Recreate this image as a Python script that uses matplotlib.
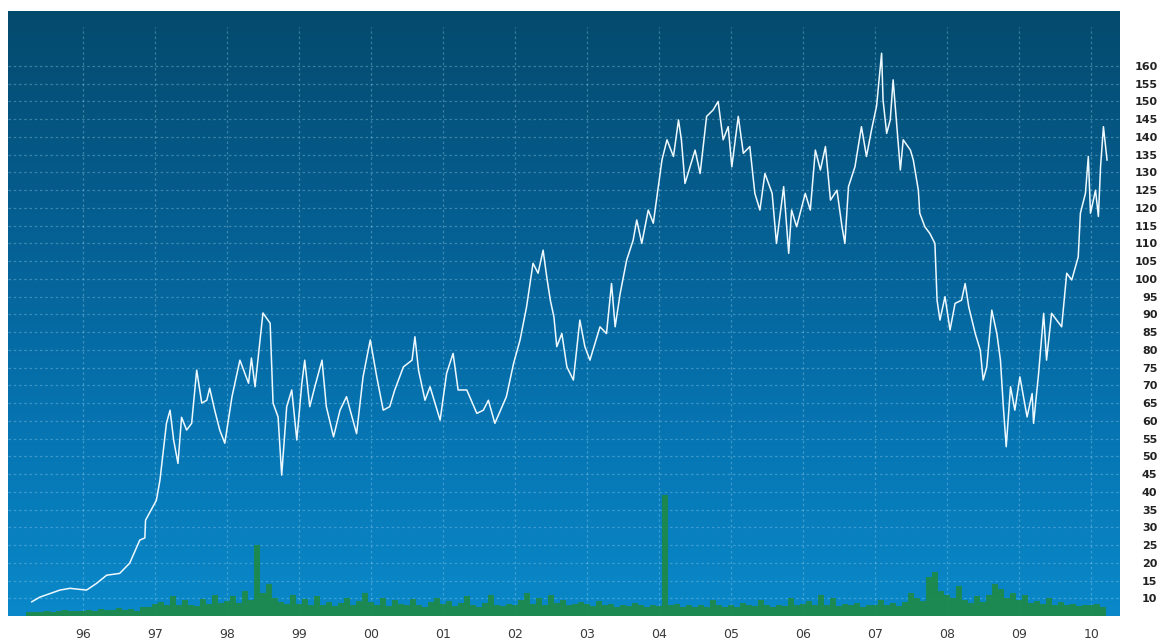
import numpy as np
import matplotlib
matplotlib.use("Agg")
import matplotlib.pyplot as plt
from matplotlib.colors import LinearSegmentedColormap

# ---------------------------------
# price series (decimal year, close)
# ---------------------------------
price_years = [
    1995.29, 1995.40, 1995.68, 1995.82, 1996.05, 1996.19, 1996.33, 1996.51,
    1996.65, 1996.79, 1996.86, 1996.87, 1996.97, 1997.02, 1997.07, 1997.16,
    1997.21, 1997.26, 1997.32, 1997.37, 1997.44, 1997.51, 1997.58, 1997.65,
    1997.72, 1997.76, 1997.83, 1997.90, 1997.97, 1998.07, 1998.18, 1998.30,
    1998.34, 1998.39, 1998.50, 1998.60, 1998.64, 1998.71, 1998.76, 1998.83,
    1998.90, 1998.97, 1999.04, 1999.08, 1999.15, 1999.22, 1999.32, 1999.38,
    1999.48, 1999.57, 1999.66, 1999.80, 1999.89, 1999.99, 2000.08, 2000.17,
    2000.26, 2000.33, 2000.45, 2000.57, 2000.61, 2000.66, 2000.75, 2000.82,
    2000.96, 2001.05, 2001.14, 2001.21, 2001.33, 2001.47, 2001.56, 2001.63,
    2001.72, 2001.88, 2001.98, 2002.07, 2002.16, 2002.25, 2002.32, 2002.39,
    2002.44, 2002.49, 2002.54, 2002.58, 2002.65, 2002.72, 2002.81, 2002.90,
    2002.97, 2003.04, 2003.18, 2003.27, 2003.34, 2003.39, 2003.46, 2003.55,
    2003.64, 2003.69, 2003.76, 2003.85, 2003.92, 2003.97, 2004.04, 2004.11,
    2004.20, 2004.27, 2004.31, 2004.36, 2004.43, 2004.50, 2004.57, 2004.66,
    2004.75, 2004.82, 2004.89, 2004.96, 2005.01, 2005.10, 2005.17, 2005.26,
    2005.33, 2005.40, 2005.47, 2005.57, 2005.63, 2005.73, 2005.80, 2005.84,
    2005.91, 2006.03, 2006.10, 2006.17, 2006.24, 2006.31, 2006.38, 2006.47,
    2006.54, 2006.58, 2006.63, 2006.72, 2006.81, 2006.88, 2006.95, 2007.02,
    2007.09, 2007.11, 2007.16, 2007.21, 2007.25, 2007.28, 2007.35, 2007.39,
    2007.49, 2007.53, 2007.60, 2007.62, 2007.69, 2007.76, 2007.83, 2007.86,
    2007.90, 2007.97, 2008.04, 2008.11, 2008.20, 2008.25, 2008.30, 2008.39,
    2008.46, 2008.50, 2008.55, 2008.62, 2008.69, 2008.74, 2008.78, 2008.82,
    2008.88, 2008.94, 2009.01, 2009.11, 2009.18, 2009.20, 2009.27, 2009.34,
    2009.38, 2009.45, 2009.59, 2009.66, 2009.73, 2009.82, 2009.85, 2009.92,
    2009.96, 2009.99, 2010.06, 2010.10, 2010.13, 2010.17, 2010.22,
]
price_values = [
    9.0, 10.3, 12.3, 12.8, 12.3, 14.2, 16.5, 17.0,
    19.9, 26.4, 27.0, 32.0, 35.7, 37.6, 43.3, 59.3,
    63.0, 54.6, 48.0, 61.0, 57.4, 59.3, 74.3, 65.0,
    65.8, 69.2, 63.0, 57.4, 53.7, 66.8, 77.1, 70.6,
    77.7, 69.6, 90.4, 87.5, 65.0, 61.1, 44.7, 64.0,
    68.7, 54.6, 70.6, 77.1, 64.0, 69.6, 77.1, 64.0,
    55.5, 63.0, 66.8, 56.4, 72.4, 82.8, 72.4, 63.0,
    64.0, 68.7, 75.2, 77.1, 83.7, 74.3, 65.8, 69.6,
    60.2, 73.4, 79.0, 68.7, 68.7, 62.1, 63.0, 65.8,
    59.3, 66.8, 76.2, 82.8, 92.1, 104.4, 101.6, 108.1,
    100.6, 94.0, 89.3, 80.9, 84.6, 75.2, 71.5, 88.4,
    80.9, 77.1, 86.5, 84.6, 98.7, 86.5, 95.9, 105.3,
    110.9, 116.6, 110.0, 119.4, 115.7, 123.2, 133.5, 139.2,
    134.5, 144.8, 139.2, 126.9, 131.6, 136.3, 129.7, 145.8,
    147.6, 150.0, 139.2, 142.9, 131.6, 145.8, 135.4, 137.3,
    124.1, 119.4, 129.7, 124.1, 110.0, 126.0, 107.2, 119.4,
    114.7, 124.1, 119.4, 136.3, 130.7, 137.3, 122.2, 125.0,
    114.7, 110.0, 126.0, 131.6, 142.9, 134.5, 142.0, 148.7,
    163.6, 150.4, 141.0, 144.8, 156.1, 148.5, 130.7, 139.2,
    136.3, 133.5, 125.0, 118.5, 114.7, 112.8, 110.0, 94.0,
    88.4, 95.0, 85.6, 93.1, 94.0, 98.7, 92.1, 84.6,
    79.9, 71.5, 75.2, 91.2, 84.6, 77.1, 64.0, 52.7,
    69.6, 63.0, 72.4, 61.1, 67.7, 59.3, 73.4, 90.3,
    77.1, 90.3, 86.5, 101.6, 99.7, 106.2, 118.5, 124.1,
    134.5, 118.5, 125.0, 117.6, 131.6, 142.9, 133.5,
]

# ---------------------------------
# monthly volume, Apr 1995 - Mar 2010
# ---------------------------------
vol_start = 1995.25
volume = [
    1.0, 1.2, 1.0, 1.5, 1.2, 1.3, 1.6, 1.4, 1.5,
    1.5, 1.8, 1.4, 2.0, 1.6, 1.8, 2.2, 1.7, 2.0, 1.5, 2.4, 2.6,
    3.5, 4.0, 3.0, 5.5, 3.2, 4.5, 3.0, 2.8, 4.8, 3.5, 6.0, 3.6,
    4.2, 5.5, 3.8, 7.0, 4.5, 20.0, 6.5, 9.0, 5.0, 4.0, 3.5, 6.0,
    3.5, 4.8, 3.0, 5.5, 3.2, 4.0, 2.8, 3.6, 5.0, 3.0, 4.2, 6.5,
    4.0, 3.2, 5.0, 2.8, 4.5, 3.5, 3.0, 4.8, 3.2, 2.6, 4.0, 5.0,
    3.5, 4.2, 2.8, 3.6, 5.5, 3.0, 2.5, 3.8, 6.0, 3.2, 2.8, 3.5,
    3.0, 4.5, 6.5, 3.5, 5.0, 3.2, 6.0, 3.8, 4.5, 3.0, 3.5, 4.0,
    3.5, 2.8, 4.2, 3.0, 3.5, 2.6, 3.2, 2.8, 3.6, 3.0, 2.5, 3.2,
    2.8, 34.0, 3.0, 3.5, 2.6, 3.2, 2.5, 3.0, 2.4, 4.5, 3.0, 2.6,
    3.2, 2.6, 3.8, 3.0, 2.8, 4.5, 3.2, 2.5, 3.0, 2.8, 5.0, 3.0,
    3.5, 4.2, 3.0, 6.0, 3.2, 5.0, 2.8, 3.5, 3.0, 3.8, 2.6, 3.0,
    3.2, 4.5, 3.0, 3.6, 2.8, 4.0, 6.5, 5.0, 4.2, 11.0, 12.5, 7.0,
    6.0, 5.0, 8.5, 4.5, 3.8, 5.5, 4.0, 6.0, 9.0, 7.5, 5.0, 6.5,
    4.5, 6.0, 3.8, 4.2, 3.5, 5.0, 3.2, 4.0, 3.0, 3.5, 2.8, 3.2,
    3.0, 3.5, 2.5,
]

years = [1996, 1997, 1998, 1999, 2000, 2001, 2002, 2003,
         2004, 2005, 2006, 2007, 2008, 2009, 2010]
year_labels = ["96", "97", "98", "99", "00", "01", "02", "03",
               "04", "05", "06", "07", "08", "09", "10"]
price_ticks = list(range(10, 165, 5))

x_lo, x_hi = 1994.96, 2010.40
y_lo, y_hi = 5.0, 175.5

fig = plt.figure(figsize=(11.6, 6.42), dpi=100)
fig.patch.set_facecolor("white")
ax = fig.add_axes([8 / 1160, 26 / 642, 1112 / 1160, 605 / 642])

# background: vertical blue gradient
bg = LinearSegmentedColormap.from_list(
    "bg", ["#0a88c9", "#0673b0", "#055e90", "#044a6d"])
grad = np.linspace(0, 1, 256).reshape(-1, 1)
ax.imshow(grad, cmap=bg, aspect="auto", origin="lower",
          extent=[x_lo, x_hi, y_lo, y_hi], zorder=0)

# grid
grid_kw = dict(color="#9fd6f0", alpha=0.35, lw=0.9, ls=(0, (2, 2.2)), zorder=1)
for v in price_ticks:
    ax.axhline(v, **grid_kw)
for yr in years:
    ax.plot([yr, yr], [y_lo, 171], **grid_kw)

# volume on its own hidden axis, bars from the bottom
axv = ax.twinx()
vol_x = vol_start + np.arange(len(volume)) / 12.0
axv.bar(vol_x, volume, width=1 / 12.0, color="#1f8a3c", alpha=0.85,
        linewidth=0, zorder=2)
axv.set_ylim(0, y_hi - y_lo)
axv.set_xlim(x_lo, x_hi)
axv.axis("off")

# price line
axv.plot(price_years, np.array(price_values) - y_lo, color="#eef9ff",
         lw=1.1, zorder=3)

ax.set_xlim(x_lo, x_hi)
ax.set_ylim(y_lo, y_hi)
for s in ax.spines.values():
    s.set_visible(False)

ax.set_xticks(years)
ax.set_xticklabels(year_labels, fontsize=9, color="#3a3a3a")
ax.tick_params(axis="x", length=0, pad=9)

ax.yaxis.tick_right()
ax.set_yticks(price_ticks)
ax.set_yticklabels([str(v) for v in price_ticks], fontsize=8,
                   fontweight="bold", color="#222222")
for lab in ax.get_yticklabels():
    lab.set_horizontalalignment("right")
ax.tick_params(axis="y", length=0, pad=27)

fig.savefig("out.png", dpi=100, facecolor="white")
